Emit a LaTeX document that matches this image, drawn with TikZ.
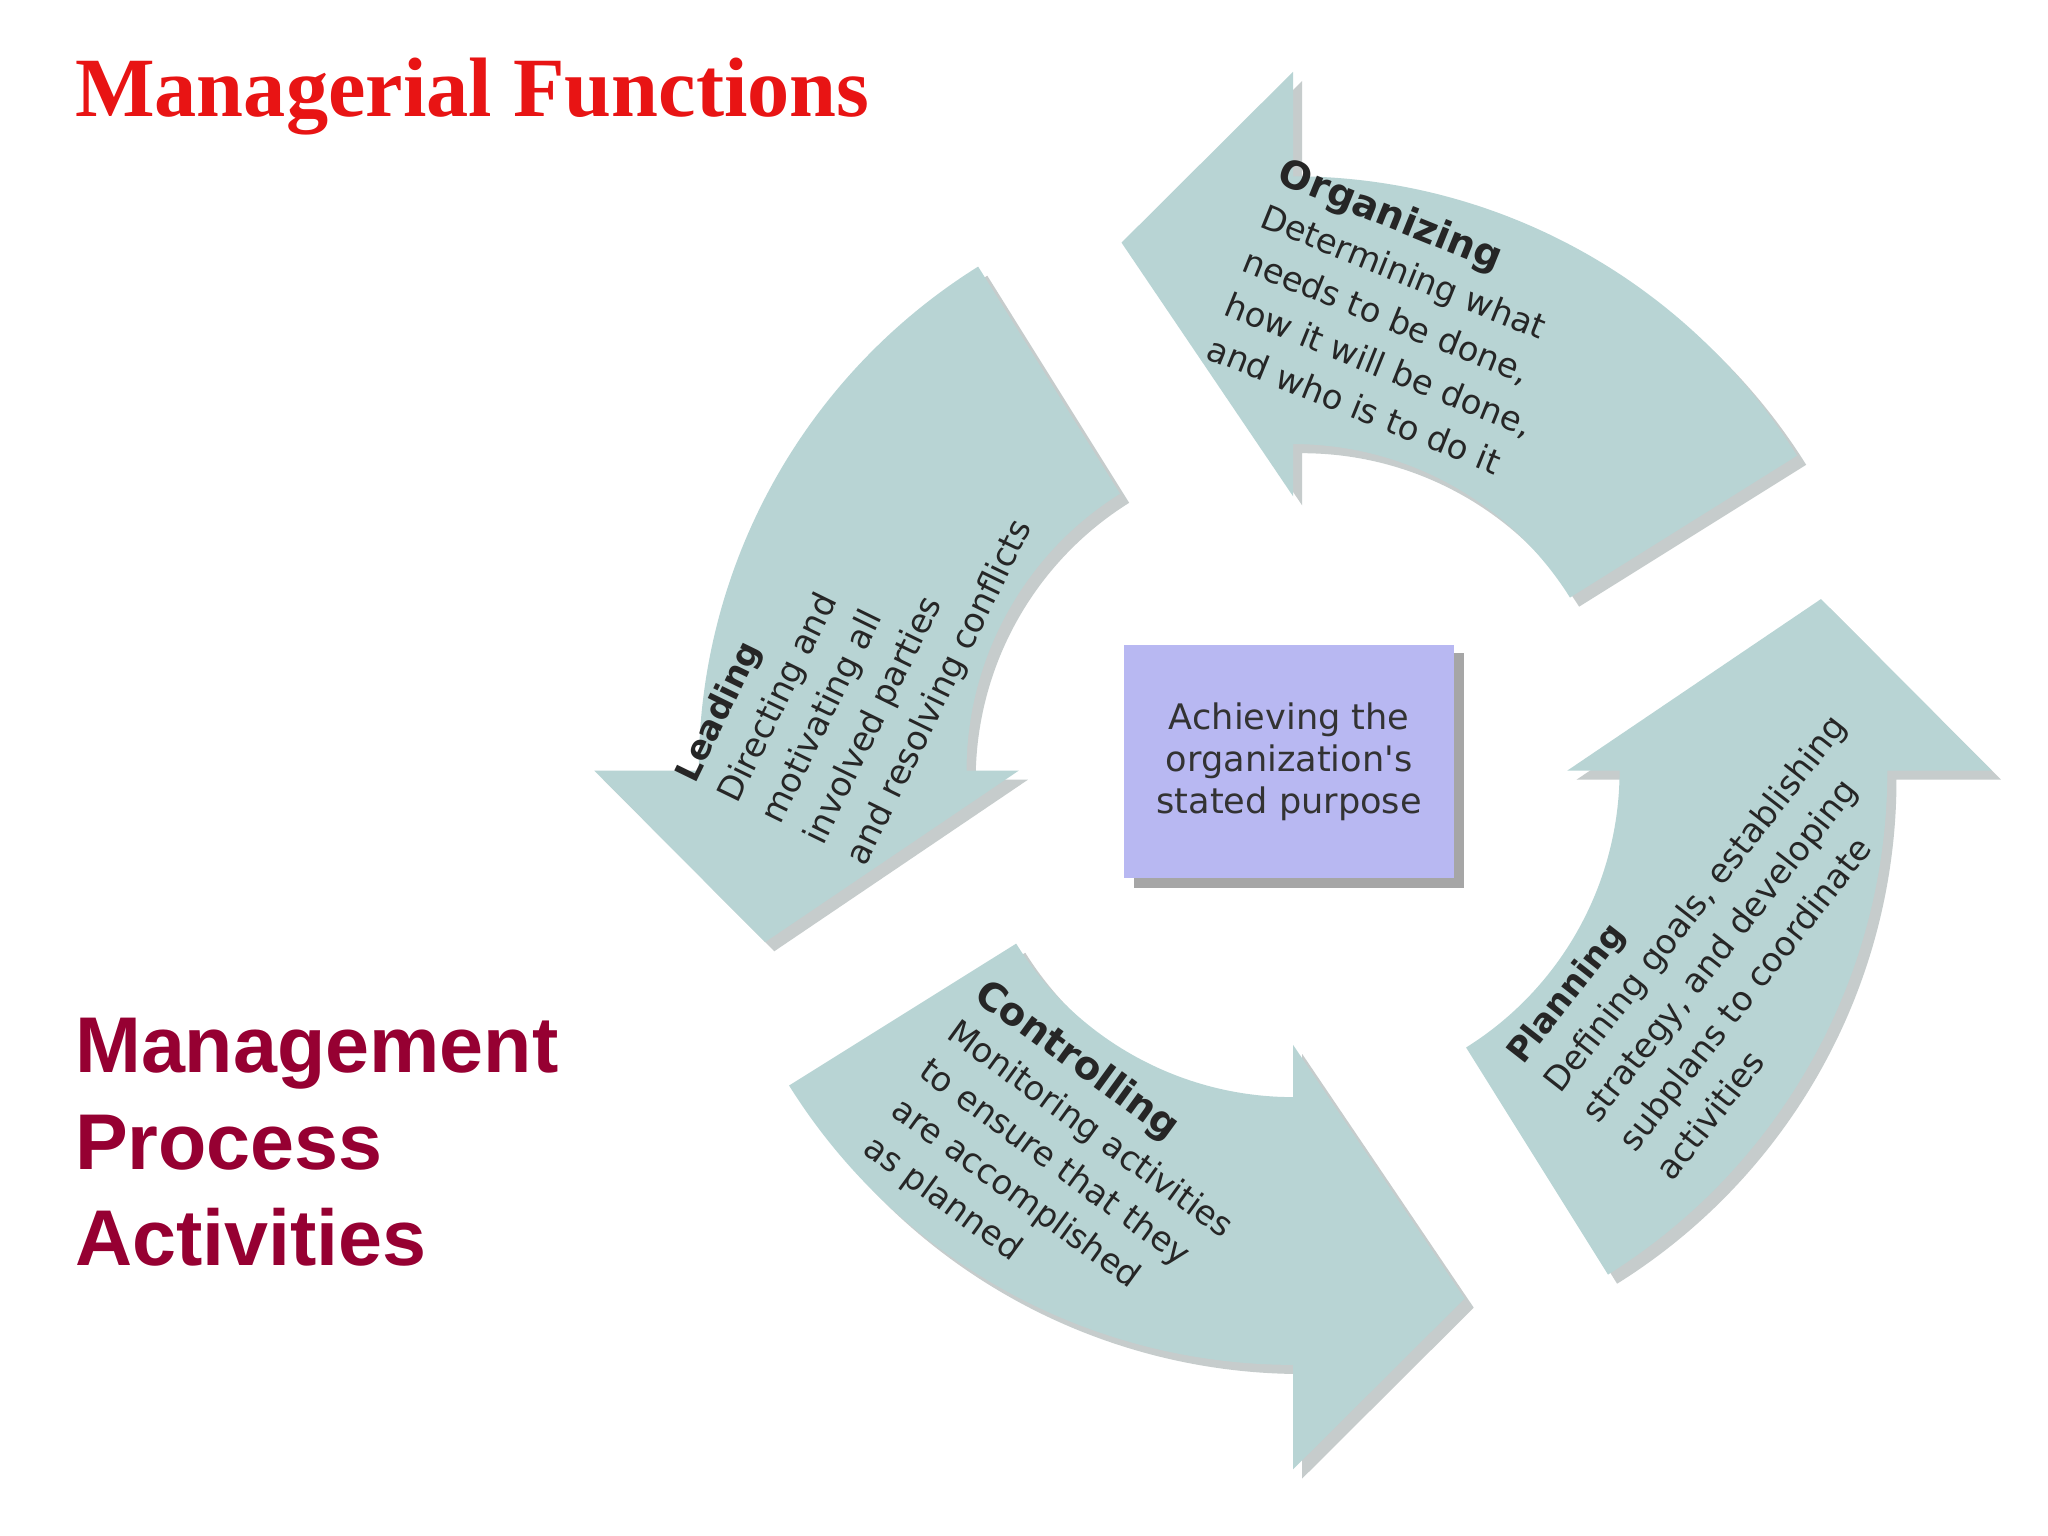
\documentclass[tikz,border=0pt]{standalone}
\usepackage{fontspec}
\setmainfont{Liberation Serif}
\newfontfamily\arrfont{DejaVu Sans}
\newfontfamily\hsans{Liberation Sans}
\definecolor{arr}{RGB}{184,212,212}
\definecolor{arrsh}{RGB}{160,170,170}
\definecolor{boxc}{RGB}{184,184,242}
\definecolor{titred}{RGB}{232,20,20}
\definecolor{darkred}{RGB}{150,0,50}
\tikzset{
 arrtext/.style={font=\arrfont\fontsize{9.6}{13.5}\selectfont,align=left,inner sep=0pt,text=black!85},
 arrtitle/.style={font=\arrfont\bfseries\fontsize{10.5}{13.5}\selectfont},
}
\newcommand\cycarrowpath{(32:250) arc[start angle=32,end angle=90,radius=250] -- (90:210) -- (108:425) -- (90:535) -- (90:455) arc[start angle=90,end angle=32,radius=455] -- cycle}
\begin{document}
\begin{tikzpicture}[x=0.013061cm,y=0.013061cm]
\useasboundingbox[fill=white] (0,0) rectangle (1568,1176);
\foreach \r in {0,90,180,270}{
 \begin{scope}[shift={(997,579)},rotate=\r]
  \fill[arrsh!60] \cycarrowpath;
 \end{scope}
 \begin{scope}[shift={(990,586)},rotate=\r]
  \fill[arr] \cycarrowpath;
 \end{scope}
}
% center box
\fill[gray!70] (868,496) rectangle (1121,676);
\node[fill=boxc,minimum width=253*0.013061cm,minimum height=179*0.013061cm,anchor=north west,inner sep=0pt,align=center,font=\arrfont\fontsize{10}{12}\selectfont,text=black!80] (goal) at (860,683) {Achieving the\\organization's\\stated purpose};
% arrow texts
\node[arrtext,rotate=-22,anchor=north west] (org) at (985,1058) {{\arrfont\bfseries\fontsize{11}{13.5}\selectfont Organizing}\\Determining what\\needs to be done,\\how it will be done,\\and who is to do it};
\node[arrtext,rotate=64,anchor=north west] (lead) at (514,584) {{\arrfont\bfseries Leading}\\Directing and\\motivating all\\involved parties\\and resolving conflicts};
\node[arrtext,rotate=-36,anchor=north west] (ctrl) at (758,430) {{\arrfont\bfseries\fontsize{11}{13.5}\selectfont Controlling}\\Monitoring activities\\to ensure that they\\are accomplished\\as planned};
\node[arrtext,rotate=52,anchor=north west] (plan) at (1150,372) {{\arrfont\bfseries Planning}\\Defining goals, establishing\\strategy, and developing\\subplans to coordinate\\activities};
% titles
\node[anchor=north west,inner sep=0pt,text=titred,font=\bfseries\fontsize{24}{28}\selectfont] (t1) at (57,1132) {Managerial Functions};
\node[anchor=north west,inner sep=0pt,align=left,text=darkred,font=\hsans\bfseries\fontsize{22.5}{27.5}\selectfont] (t2) at (57,397) {Management\\Process\\Activities};
\end{tikzpicture}
\end{document}
